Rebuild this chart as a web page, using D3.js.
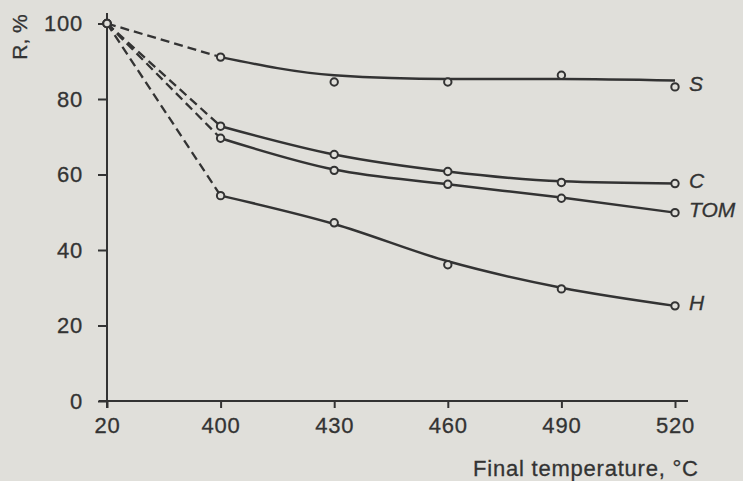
<!DOCTYPE html>
<html><head><meta charset="utf-8">
<script src="https://cdn.jsdelivr.net/npm/d3@7"></script>
<style>
html,body{margin:0;padding:0;background:#e0dfda;}
svg{display:block;font-family:"Liberation Sans",Arial,sans-serif;}
</style></head>
<body>
<script>
const categories = ["20","400","430","460","490","520"];
const yTicks = [0,20,40,60,80,100];
const seriesNames = ["S","C","TOM","H"];
// measured points (circles)
const S   = [100, 91.1, 84.5, 84.5, 86.3, 83.2];
const C   = [100, 72.8, 65.3, 60.8, 57.9, 57.6];
const TOM = [100, 69.6, 61.1, 57.4, 53.7, 49.9];
const H   = [100, 54.4, 47.2, 36.1, 29.7, 25.2];
// smoothed trend lines drawn through 400..520
const S_fit   = [91.1, 86.3, 85.3, 85.3, 84.9];
const C_fit   = [72.8, 65.3, 60.8, 58.2, 57.6];
const TOM_fit = [69.6, 61.3, 57.4, 53.9, 49.9];
const H_fit   = [54.4, 46.9, 37.0, 30.0, 25.2];
const seriesValues = [S, C, TOM, H];
const seriesFits = [S_fit, C_fit, TOM_fit, H_fit];

const W = 743, H0 = 481;
const ink = "#333333";
const bg = "#e0dfda";
const svg = d3.select("body").append("svg").attr("width", W).attr("height", H0);

const x = d3.scalePoint().domain(categories).range([107, 675]);
const y = d3.scaleLinear().domain([0, 100]).range([401, 23.5]);

// axes
const yAxis = svg.append("g").attr("transform", "translate(107,0)")
  .call(d3.axisLeft(y).tickValues(yTicks).tickSize(9).tickPadding(15));
const xAxis = svg.append("g").attr("transform", "translate(0,401)")
  .call(d3.axisBottom(x).tickSize(7).tickPadding(14));
[yAxis, xAxis].forEach(g => {
  g.select(".domain").remove();
  g.selectAll("line").attr("stroke", ink).attr("stroke-width", 2);
  g.selectAll("text").attr("fill", ink).attr("font-size", 22).attr("letter-spacing", 0.8)
    .attr("stroke", ink).attr("stroke-width", 0.3)
    .attr("font-family", "'Liberation Sans',Arial,sans-serif");
});
xAxis.selectAll("text").attr("dy", "0.5em");
svg.append("line").attr("x1", 107).attr("x2", 107).attr("y1", 13).attr("y2", 408)
  .attr("stroke", ink).attr("stroke-width", 2);
svg.append("line").attr("x1", 99).attr("x2", 688).attr("y1", 401).attr("y2", 401)
  .attr("stroke", ink).attr("stroke-width", 2);

// axis titles
svg.append("text").attr("transform", "translate(27,37) rotate(-90)")
  .attr("text-anchor", "middle").attr("font-size", 21).attr("fill", ink)
  .attr("stroke", ink).attr("stroke-width", 0.3).text("R, %");
svg.append("text").attr("x", 473).attr("y", 476)
  .attr("font-size", 22).attr("fill", ink).attr("stroke", ink).attr("stroke-width", 0.3)
  .attr("textLength", 225).attr("lengthAdjust", "spacing").text("Final temperature, °C");

// series
const solid = d3.line().x((d,i) => x(categories[i + 1])).y(d => y(d)).curve(d3.curveMonotoneX);
seriesValues.forEach((vals, k) => {
  const g = svg.append("g");
  g.append("line")
    .attr("x1", x(categories[0])).attr("y1", y(vals[0]))
    .attr("x2", x(categories[1])).attr("y2", y(vals[1]))
    .attr("stroke", ink).attr("stroke-width", 2.3).attr("stroke-dasharray", "9,5");
  g.append("path").datum(seriesFits[k]).attr("d", solid)
    .attr("fill", "none").attr("stroke", ink).attr("stroke-width", 2.5);
  g.selectAll("circle").data(vals).join("circle")
    .attr("cx", (d,i) => x(categories[i])).attr("cy", d => y(d)).attr("r", 3.7)
    .attr("fill", bg).attr("stroke", ink).attr("stroke-width", 2);
  g.append("text").attr("x", x(categories[5]) + 14).attr("y", y(vals[5]) - 3)
    .attr("dominant-baseline", "central").attr("font-size", 21).attr("font-style", "italic")
    .attr("stroke", ink).attr("stroke-width", 0.3)
    .attr("fill", ink).text(seriesNames[k]);
});
</script>
</body></html>
